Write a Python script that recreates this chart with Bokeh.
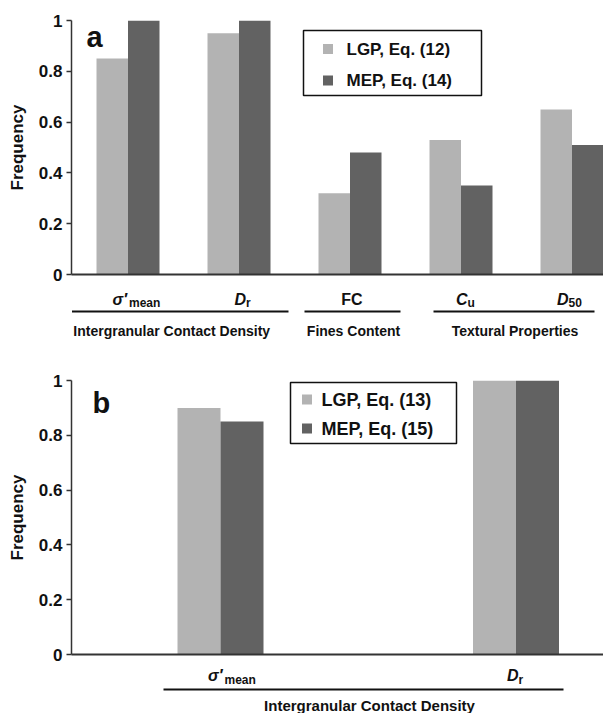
from bokeh.plotting import figure
from bokeh.layouts import column
from bokeh.models import Range1d, FixedTicker
from bokeh.embed import file_html
from bokeh.resources import INLINE
from bokeh.core.properties import value

# ---------------- data ----------------
cat_main_a = ["\u03c3\u2032", "D", "FC", "C", "D"]
cat_sub_a = ["mean", "r", "", "u", "50"]
cat_italic_a = [True, True, False, True, True]
lgp_a = [0.85, 0.95, 0.32, 0.53, 0.65]
mep_a = [1.0, 1.0, 0.48, 0.35, 0.51]
series_a = ["LGP, Eq. (12)", "MEP, Eq. (14)"]
groups_a = ["Intergranular Contact Density", "Fines Content", "Textural Properties"]
group_first_a = [0, 2, 3]
group_last_a = [1, 2, 4]

cat_main_b = ["\u03c3\u2032", "D"]
cat_sub_b = ["mean", "r"]
cat_italic_b = [True, True]
lgp_b = [0.90, 1.0]
mep_b = [0.85, 1.0]
series_b = ["LGP, Eq. (13)", "MEP, Eq. (15)"]
groups_b = ["Intergranular Contact Density"]
group_first_b = [0]
group_last_b = [1]

yticks = [0, 0.2, 0.4, 0.6, 0.8, 1]
ytick_labels = ["0", "0.2", "0.4", "0.6", "0.8", "1"]

# ---------------- styles ----------------
W = 603
FONT = value("Liberation Sans")
FONT_NAME = "Liberation Sans"
LGP_COLOR = "#b3b3b3"
MEP_COLOR = "#626262"
TXT = "#111111"
AX = "#333333"


def style_axes(p):
    p.outline_line_color = None
    p.grid.visible = False
    ya = p.yaxis[0]
    ya.ticker = FixedTicker(ticks=yticks)
    ya.major_label_overrides = {t: l for t, l in zip(yticks, ytick_labels)}
    ya.minor_tick_line_color = None
    ya.major_tick_in = 0
    ya.major_tick_out = 5
    ya.axis_line_width = 1.5
    ya.axis_line_color = AX
    ya.major_tick_line_color = AX
    ya.major_tick_line_width = 1.5
    ya.major_label_text_font = FONT_NAME
    ya.major_label_text_font_style = "bold"
    ya.major_label_text_font_size = "17px"
    ya.major_label_text_color = TXT
    ya.major_label_standoff = 4
    ya.axis_label = "Frequency"
    ya.axis_label_text_font = FONT_NAME
    ya.axis_label_text_font_style = "bold"
    ya.axis_label_text_font_size = "17px"
    ya.axis_label_text_color = TXT
    ya.axis_label_standoff = 9
    xa = p.xaxis[0]
    xa.ticker = FixedTicker(ticks=[])
    xa.major_tick_out = 0
    xa.major_tick_in = 0
    xa.minor_tick_line_color = None
    xa.major_label_text_font_size = "0px"
    xa.major_label_standoff = 0
    xa.axis_line_width = 2
    xa.axis_line_color = AX


def make_panel(letter, lgp, mep, series, cat_main, cat_sub, cat_italic,
               groups, gfirst, glast, P):
    c0, s = P["c0"], P["s"]
    fl, ft, fb = P["frame_left"], P["frame_top"], P["zero_px"]
    top, h = P["top"], P["height"]
    px2x = lambda px: (px - c0) / s
    py2y = lambda py: (fb - py) / (fb - ft)
    p = figure(width=W, height=h, x_range=Range1d(px2x(fl), px2x(W)),
               y_range=Range1d(0, 1),
               min_border_left=fl, min_border_right=0,
               min_border_top=ft - top, min_border_bottom=top + h - fb,
               output_backend="svg", toolbar_location=None)
    style_axes(p)
    idx = list(range(len(lgp)))
    bw = P["bar_px"] / s
    p.vbar(x=[i - bw / 2 for i in idx], top=lgp, width=bw, fill_color=LGP_COLOR, line_color=None)
    p.vbar(x=[i + bw / 2 for i in idx], top=mep, width=bw, fill_color=MEP_COLOR, line_color=None)

    # panel letter
    p.text(x=[px2x(P["letter_px"][0])], y=[py2y(P["letter_px"][1])], text=[letter],
           text_font=FONT, text_font_style="bold", text_font_size="29px",
           text_color=TXT, text_baseline="alphabetic", text_align="left")

    # legend (box, swatches, labels)
    L = P["legend"]
    p.quad(left=[px2x(L["x0"])], right=[px2x(L["x1"])], top=[py2y(L["y0"])],
           bottom=[py2y(L["y1"])], fill_color="white", line_color="#111111", line_width=1.5)
    p.scatter(x=[px2x(L["mx"])] * 2, y=[py2y(r) for r in L["rows"]], marker="square",
              size=L["msize"], fill_color=[LGP_COLOR, MEP_COLOR], line_color=None)
    p.text(x=[px2x(L["tx"])] * 2, y=[py2y(r) for r in L["rows"]], text=series,
           text_font=FONT, text_font_style="bold", text_font_size=L["fs"],
           text_color=TXT, text_baseline="middle", text_align="left")

    # ---- label strip below the panel (same x mapping, y in pixels from strip top) ----
    lt = top + h
    lh = P["lab_height"]
    q = figure(width=W, height=lh, x_range=p.x_range, y_range=Range1d(lh, 0),
               min_border_left=fl, min_border_right=0, min_border_top=0, min_border_bottom=0,
               x_axis_type=None, y_axis_type=None,
               output_backend="svg", toolbar_location=None)
    q.outline_line_color = None
    q.grid.visible = False
    for i in idx:
        has_sub = cat_sub[i] != ""
        q.text(x=[i], y=[P["main_base"] - lt], text=[cat_main[i]], x_offset=P["main_off"][i],
               text_font=FONT, text_font_style="bold italic" if cat_italic[i] else "bold",
               text_font_size="16px", text_color=TXT, text_baseline="alphabetic",
               text_align="right" if has_sub else "center")
        if has_sub:
            q.text(x=[i], y=[P["sub_base"] - lt], text=[cat_sub[i]], x_offset=P["sub_off"][i],
                   text_font=FONT, text_font_style="bold", text_font_size="12px",
                   text_color=TXT, text_baseline="alphabetic", text_align="left")

    ng = len(groups)
    x0s = [px2x(c0 + gfirst[k] * s - P["pad_l"][k]) for k in range(ng)]
    x1s = [px2x(c0 + glast[k] * s + P["pad_r"][k]) for k in range(ng)]
    ly = P["line_y"] - lt
    q.segment(x0=x0s, x1=x1s, y0=[ly] * ng, y1=[ly] * ng, line_color="#111111", line_width=2)
    q.text(x=[(a + b) / 2 for a, b in zip(x0s, x1s)], y=[P["group_base"] - lt] * ng,
           text=groups, x_offset=P["group_off"], text_font=FONT, text_font_style="bold",
           text_font_size=P["group_fs"], text_color=TXT, text_baseline="alphabetic",
           text_align="center")
    return p, q


PA = dict(c0=127.5, s=111.0, top=0, height=287, frame_left=71, frame_top=20, zero_px=274,
          bar_px=31.5, letter_px=(86, 36), lab_height=53,
          legend=dict(x0=303, x1=481, y0=30, y1=95, mx=327.5, rows=[48.5, 80], msize=10,
                      tx=346, fs="17px"),
          main_base=299, sub_base=302, line_y=311, group_base=330,
          main_off=[-1, 7, 2, 6.5, -3.5], sub_off=[1, 7, 0, 6.5, -3.5],
          pad_l=[56, 45.5, 27.5], pad_r=[49.5, 50.5, 22.5], group_off=[-8.5, 1, 1],
          group_fs="14px")

PB = dict(c0=220.0, s=295.5, top=340, height=327, frame_left=71, frame_top=380, zero_px=654,
          bar_px=43, letter_px=(92, 402), lab_height=46,
          legend=dict(x0=290, x1=456, y0=382, y1=443, mx=306.5, rows=[399, 428], msize=10,
                      tx=321, fs="18px"),
          main_base=675, sub_base=679, line_y=689, group_base=705,
          main_off=[2, 2.5], sub_off=[4, 2.5],
          pad_l=[57], pad_r=[47.5], group_off=[6],
          group_fs="15px")

pa, qa = make_panel("a", lgp_a, mep_a, series_a, cat_main_a, cat_sub_a, cat_italic_a,
                    groups_a, group_first_a, group_last_a, PA)
pb, qb = make_panel("b", lgp_b, mep_b, series_b, cat_main_b, cat_sub_b, cat_italic_b,
                    groups_b, group_first_b, group_last_b, PB)

layout = column(pa, qa, pb, qb, spacing=0)
open("out.html", "w").write(file_html(layout, INLINE))
